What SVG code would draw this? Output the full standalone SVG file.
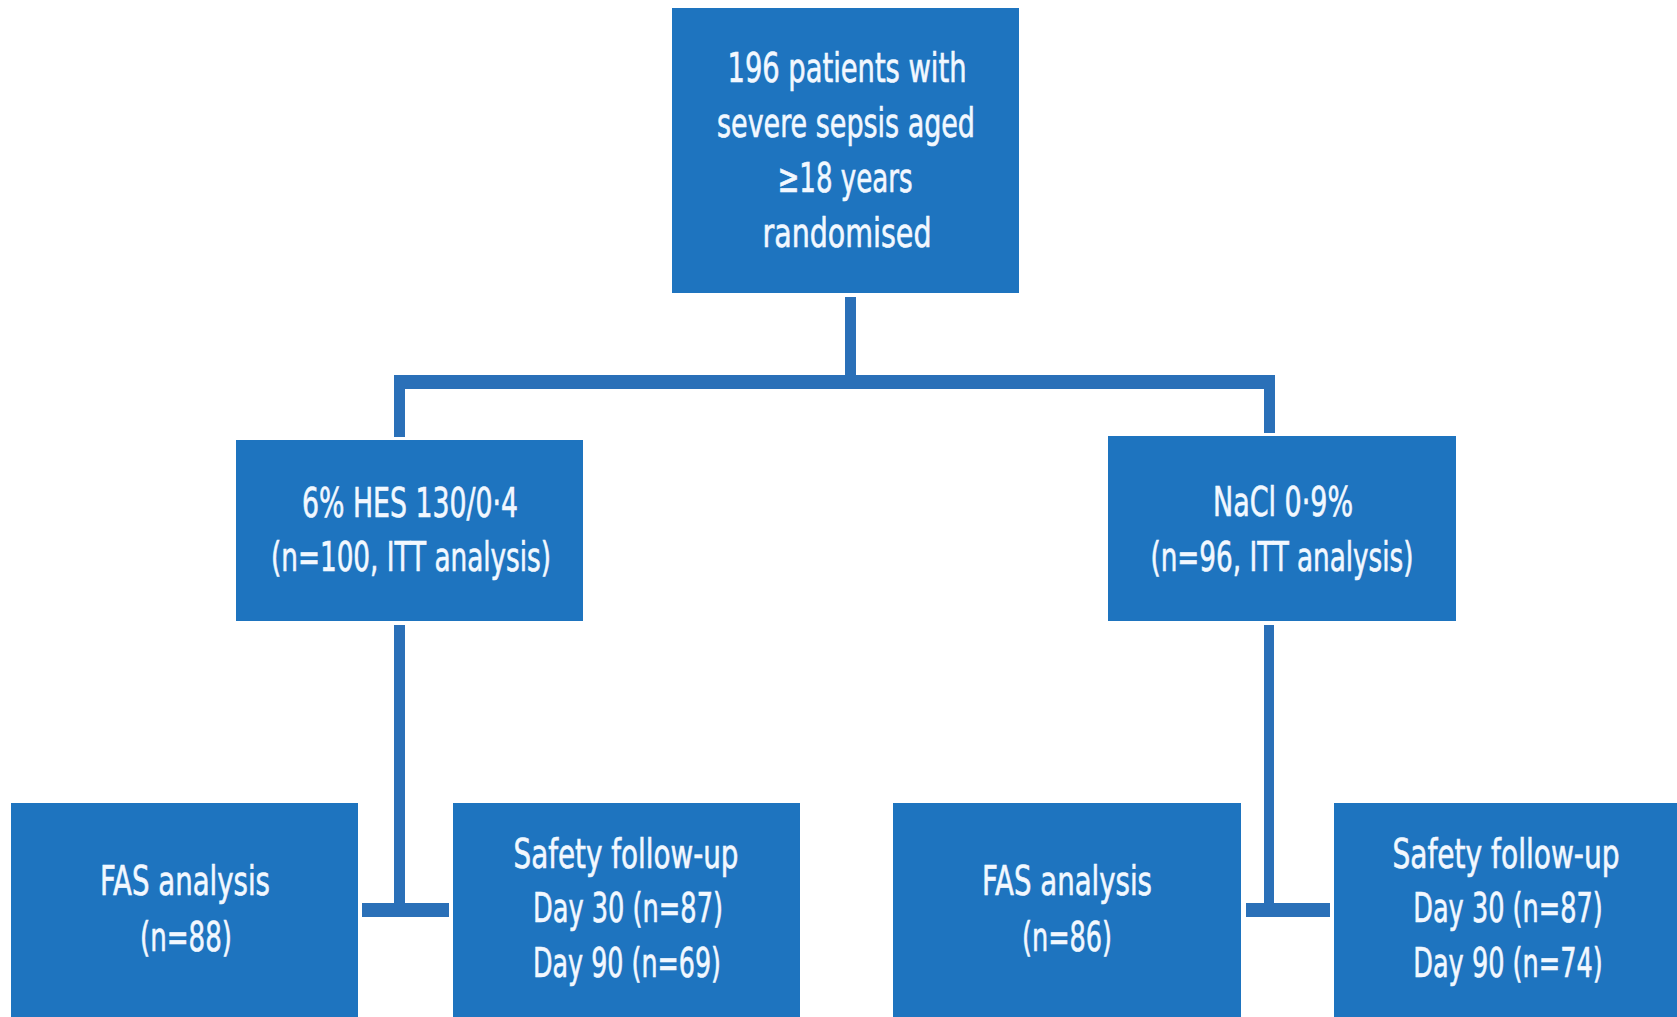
<svg xmlns="http://www.w3.org/2000/svg" width="1677" height="1017" viewBox="0 0 1677 1017">
<style>
.box{fill:#1e74bf;}
.conn{fill:#2a70b8;}
text{font-family:"Liberation Sans Narrow","DejaVu Sans Condensed","Liberation Sans",sans-serif;font-size:40px;fill:#f2f8ff;stroke:#f2f8ff;stroke-width:0.6;text-anchor:middle;}
</style>
<rect width="1677" height="1017" fill="#ffffff"/>
<g id="connectors">
<rect class="conn" x="845" y="297" width="11" height="80"/>
<rect class="conn" x="394" y="375" width="881" height="14"/>
<rect class="conn" x="394" y="375" width="11" height="62"/>
<rect class="conn" x="1264" y="375" width="11" height="58"/>
<rect class="conn" x="394" y="625" width="11" height="292"/>
<rect class="conn" x="362" y="903" width="87" height="14"/>
<rect class="conn" x="1264" y="625" width="10" height="292"/>
<rect class="conn" x="1246" y="903" width="84" height="14"/>
</g>
<g id="node-randomised">
<rect class="box" x="672" y="8" width="347" height="285"/>
<text x="847" y="82" textLength="239" lengthAdjust="spacingAndGlyphs">196 patients with</text>
<text x="846" y="137" textLength="258" lengthAdjust="spacingAndGlyphs">severe sepsis aged</text>
<text x="845" y="192" textLength="135" lengthAdjust="spacingAndGlyphs">≥18 years</text>
<text x="847" y="247" textLength="169" lengthAdjust="spacingAndGlyphs">randomised</text>
</g>
<g id="node-hes">
<rect class="box" x="236" y="440" width="347" height="181"/>
<text x="410" y="517" textLength="216" lengthAdjust="spacingAndGlyphs">6% HES 130/0·4</text>
<text x="411" y="571" textLength="280" lengthAdjust="spacingAndGlyphs">(n=100, ITT analysis)</text>
</g>
<g id="node-nacl">
<rect class="box" x="1108" y="436" width="348" height="185"/>
<text x="1283" y="516" textLength="140" lengthAdjust="spacingAndGlyphs">NaCl 0·9%</text>
<text x="1282" y="571" textLength="263" lengthAdjust="spacingAndGlyphs">(n=96, ITT analysis)</text>
</g>
<g id="node-fas-hes">
<rect class="box" x="11" y="803" width="347" height="214"/>
<text x="185" y="895" textLength="170" lengthAdjust="spacingAndGlyphs">FAS analysis</text>
<text x="186" y="951" textLength="92" lengthAdjust="spacingAndGlyphs">(n=88)</text>
</g>
<g id="node-safety-hes">
<rect class="box" x="453" y="803" width="347" height="214"/>
<text x="626" y="868" textLength="225" lengthAdjust="spacingAndGlyphs">Safety follow-up</text>
<text x="628" y="922" textLength="190" lengthAdjust="spacingAndGlyphs">Day 30 (n=87)</text>
<text x="627" y="977" textLength="188" lengthAdjust="spacingAndGlyphs">Day 90 (n=69)</text>
</g>
<g id="node-fas-nacl">
<rect class="box" x="893" y="803" width="348" height="214"/>
<text x="1067" y="895" textLength="170" lengthAdjust="spacingAndGlyphs">FAS analysis</text>
<text x="1067" y="951" textLength="90" lengthAdjust="spacingAndGlyphs">(n=86)</text>
</g>
<g id="node-safety-nacl">
<rect class="box" x="1334" y="803" width="343" height="214"/>
<g transform="translate(1506,0) scale(0.8,1)">
<text x="0" y="868" textLength="284" lengthAdjust="spacingAndGlyphs">Safety follow-up</text>
<text x="2.5" y="922" textLength="237" lengthAdjust="spacingAndGlyphs">Day 30 (n=87)</text>
<text x="2.5" y="977" textLength="237" lengthAdjust="spacingAndGlyphs">Day 90 (n=74)</text>
</g>
</g>
</svg>
